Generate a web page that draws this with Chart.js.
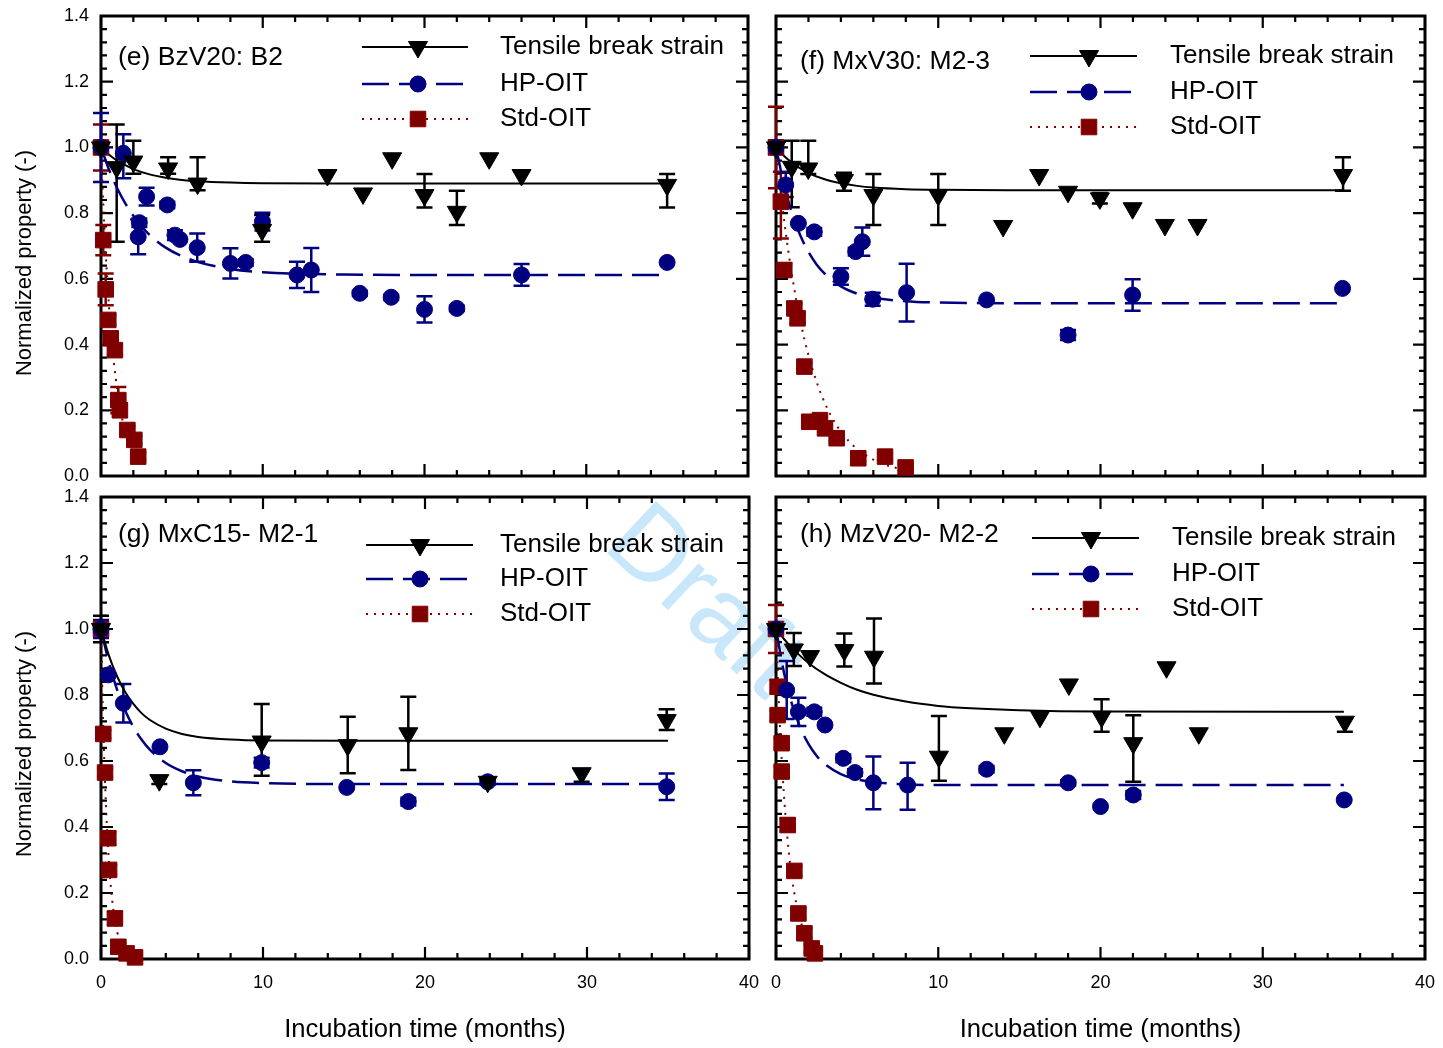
<!DOCTYPE html>
<html>
<head>
<meta charset="utf-8">
<script src="https://cdn.jsdelivr.net/npm/chart.js"></script>
<style>
html,body{margin:0;padding:0;background:#fff;}
#wrap{position:relative;width:1443px;height:1048px;overflow:hidden;background:#fff;}
#wrap canvas{position:absolute;}
#wm{position:absolute;left:708px;top:598px;transform:translate(-50%,-50%) rotate(43deg);font-family:"Liberation Sans",Arial,sans-serif;font-size:104px;color:#c9e7fa;white-space:nowrap;line-height:1;}
</style>
</head>
<body>
<div id="wrap">
<div id="wm">Draft</div>
<canvas id="ce" width="760" height="510" style="left:0px;top:-10px"></canvas>
<canvas id="cf" width="683" height="490" style="left:760px;top:0px"></canvas>
<canvas id="cg" width="775" height="582" style="left:0px;top:466px"></canvas>
<canvas id="ch" width="703" height="572" style="left:750px;top:476px"></canvas>
</div>
<script>
// ---------- text ----------
const seriesNames = ['Tensile break strain', 'HP-OIT', 'Std-OIT'];
const panelTitles = ['(e) BzV20: B2', '(f) MxV30: M2-3', '(g) MxC15- M2-1', '(h) MzV20- M2-2'];
const xAxisTitle = 'Incubation time (months)';
const yAxisTitle = 'Normalized property (-)';
const xMajorTicks = [0, 10, 20, 30, 40];
const yMajorTicks = [0, 0.2, 0.4, 0.6, 0.8, 1.0, 1.2, 1.4];

// ---------- panel (e) ----------
const eTensX = [0, 0.97, 2.0, 4.15, 5.97, 9.96, 14.0, 16.2, 18.0, 20.0, 22.0, 24.0, 26.0, 35.0];
const eTensY = [1.0, 0.94, 0.957, 0.936, 0.89, 0.749, 0.916, 0.86, 0.967, 0.855, 0.804, 0.967, 0.916, 0.886];
const eTensErr = [0, [0.227, 0.13], [0.037, 0.063], [0.016, 0.034], [0.02, 0.08], [0.036, 0.045], 0, 0, 0, [0.038, 0.064], [0.04, 0.064], 0, 0, [0.069, 0.033]];
const eHpX = [0, 1.38, 2.37, 2.3, 2.82, 4.1, 4.57, 4.88, 5.95, 8.0, 8.95, 9.98, 12.12, 13.0, 16.0, 17.94, 20.0, 22.0, 26.0, 35.0];
const eHpY = [1.0, 0.982, 0.771, 0.728, 0.85, 0.825, 0.733, 0.72, 0.695, 0.647, 0.65, 0.774, 0.612, 0.627, 0.556, 0.544, 0.507, 0.51, 0.612, 0.65];
const eHpErr = [0.105, [0.076, 0.058], 0.013, 0.053, 0.027, 0.01, 0.015, 0, 0.043, 0.046, 0.01, 0.027, 0.04, 0.067, 0.008, 0.008, 0.04, 0.008, 0.033, 0];
const eStdX = [0, 0.14, 0.29, 0.45, 0.6, 0.86, 1.07, 1.17, 1.63, 2.06, 2.3];
const eStdY = [1.0, 0.718, 0.568, 0.475, 0.419, 0.383, 0.231, 0.2, 0.14, 0.11, 0.059];
const eStdErr = [0.07, 0.046, 0.048, 0.015, 0.012, 0.015, 0.04, 0.02, 0.012, 0.012, 0.01];
const eTensFitX = [0, 0.5, 1, 1.5, 2, 3, 4, 5, 6, 8, 10, 15, 20, 35];
const eTensFitY = [1.0, 0.978, 0.960, 0.946, 0.934, 0.918, 0.908, 0.901, 0.897, 0.893, 0.891, 0.890, 0.890, 0.890];
const eHpFitX = [0, 0.5, 1, 1.5, 2, 2.5, 3, 4, 5, 6, 8, 10, 15, 20, 35];
const eHpFitY = [1.0, 0.932, 0.876, 0.830, 0.792, 0.760, 0.734, 0.695, 0.669, 0.651, 0.630, 0.620, 0.613, 0.612, 0.612];
const eStdFitX = [0, 0.1, 0.2, 0.3, 0.4, 0.6, 0.8, 1.0, 1.25, 1.5, 1.75, 2.0, 2.3];
const eStdFitY = [1.0, 0.875, 0.766, 0.670, 0.587, 0.449, 0.344, 0.264, 0.189, 0.135, 0.097, 0.069, 0.047];

// ---------- panel (f) ----------
const fTensX = [0, 0.97, 1.99, 4.19, 6.0, 10.0, 14.0, 16.22, 18.0, 19.96, 21.98, 23.97, 25.98, 34.95];
const fTensY = [1.0, 0.941, 0.936, 0.901, 0.855, 0.855, 0.761, 0.916, 0.865, 0.845, 0.815, 0.764, 0.764, 0.916];
const fTensErr = [0.02, [0.123, 0.079], [0.017, 0.084], [0.033, 0.022], [0.091, 0.064], [0.091, 0.064], 0, 0, 0, 0.016, 0, 0, 0, [0.048, 0.054]];
const fHpX = [0, 0.6, 1.38, 2.36, 4.0, 4.91, 5.32, 5.96, 8.05, 12.98, 18.0, 21.98, 34.92];
const fHpY = [1.0, 0.886, 0.769, 0.743, 0.607, 0.683, 0.713, 0.538, 0.558, 0.536, 0.429, 0.551, 0.571];
const fHpErr = [0.01, 0.037, 0, 0.012, 0.025, 0.012, 0.043, 0.02, 0.088, 0, 0.015, 0.048, 0];
const fStdX = [0, 0.3, 0.51, 1.13, 1.33, 1.75, 2.05, 2.71, 3.02, 3.74, 5.07, 6.72, 7.99];
const fStdY = [1.0, 0.835, 0.627, 0.51, 0.48, 0.333, 0.165, 0.17, 0.145, 0.115, 0.054, 0.059, 0.026];
const fStdErr = [0.124, [0.112, 0.091], 0.02, 0.015, 0.015, 0.01, 0.01, 0.01, 0.01, 0.01, 0.01, 0.01, 0.01];
const fTensFitX = [0, 0.5, 1, 1.5, 2, 3, 4, 5, 6, 8, 10, 15, 20, 35];
const fTensFitY = [1.0, 0.974, 0.953, 0.936, 0.922, 0.903, 0.891, 0.883, 0.878, 0.873, 0.871, 0.870, 0.870, 0.870];
const fHpFitX = [0, 0.5, 1, 1.5, 2, 2.5, 3, 4, 5, 6, 8, 10, 15, 20, 35];
const fHpFitY = [1.0, 0.885, 0.798, 0.732, 0.682, 0.644, 0.616, 0.577, 0.555, 0.543, 0.532, 0.528, 0.526, 0.526, 0.526];
const fStdFitX = [0, 0.5, 1, 1.5, 2, 2.5, 3, 3.5, 4, 5, 6, 7, 8];
const fStdFitY = [1.0, 0.779, 0.607, 0.472, 0.368, 0.287, 0.223, 0.174, 0.135, 0.082, 0.050, 0.030, 0.018];

// ---------- panel (g) ----------
const gTensX = [0, 3.6, 9.92, 15.23, 18.97, 23.87, 29.67, 34.92];
const gTensY = [1.0, 0.542, 0.659, 0.648, 0.684, 0.537, 0.563, 0.724];
const gTensErr = [0.04, 0.012, [0.104, 0.114], [0.085, 0.086], 0.111, 0.008, [0.026, 0.01], [0.03, 0.033]];
const gHpX = [0, 0.45, 1.38, 3.64, 5.7, 9.92, 15.17, 18.97, 23.87, 34.92];
const gHpY = [1.0, 0.861, 0.775, 0.643, 0.534, 0.595, 0.52, 0.477, 0.537, 0.522];
const gHpErr = [0.027, 0, 0.058, 0, 0.038, 0.015, 0, 0.012, 0.008, 0.04];
const gStdX = [0, 0.14, 0.25, 0.45, 0.5, 0.86, 1.07, 1.58, 2.1];
const gStdY = [1.0, 0.682, 0.565, 0.366, 0.27, 0.123, 0.037, 0.017, 0.005];
const gStdErr = [0.01, 0.012, 0.012, 0.02, 0.015, 0.02, 0.012, 0.01, 0.01];
const gTensFitX = [0, 0.5, 1, 1.5, 2, 2.5, 3, 4, 5, 6, 8, 10, 15, 20, 35];
const gTensFitY = [1.0, 0.918, 0.856, 0.808, 0.773, 0.745, 0.725, 0.698, 0.682, 0.673, 0.665, 0.662, 0.661, 0.661, 0.661];
const gHpFitX = [0, 0.5, 1, 1.5, 2, 2.5, 3, 4, 5, 6, 8, 10, 15, 20, 35];
const gHpFitY = [1.0, 0.896, 0.815, 0.752, 0.703, 0.665, 0.635, 0.594, 0.569, 0.553, 0.538, 0.533, 0.530, 0.530, 0.530];
const gStdFitX = [0, 0.1, 0.2, 0.3, 0.4, 0.5, 0.6, 0.8, 1.0, 1.25, 1.5, 1.75, 2.1];
const gStdFitY = [1.0, 0.779, 0.607, 0.472, 0.368, 0.287, 0.223, 0.135, 0.082, 0.044, 0.024, 0.013, 0.005];

// ---------- panel (h) ----------
const hTensX = [0, 1.1, 2.1, 4.21, 6.04, 10.04, 14.07, 16.27, 18.05, 20.07, 22.02, 24.07, 26.06, 35.06];
const hTensY = [1.0, 0.938, 0.918, 0.936, 0.916, 0.613, 0.684, 0.734, 0.832, 0.734, 0.654, 0.884, 0.684, 0.719];
const hTensErr = [0.01, 0.05, 0, 0.05, [0.081, 0.116], [0.073, 0.123], 0, 0, 0, [0.045, 0.053], [0.117, 0.085], 0, 0, [0.03, 0.01]];
const hHpX = [0, 0.66, 1.38, 2.36, 3.02, 4.15, 4.87, 6.0, 8.11, 12.98, 18.01, 20.0, 22.02, 35.02];
const hHpY = [1.0, 0.815, 0.749, 0.749, 0.709, 0.608, 0.565, 0.534, 0.527, 0.575, 0.534, 0.462, 0.497, 0.482];
const hHpErr = [0.01, 0.088, 0.043, 0.012, 0, 0.012, 0.01, 0.08, [0.075, 0.068], 0.01, 0.008, 0, 0.012, 0];
const hStdX = [0, 0.1, 0.1, 0.35, 0.35, 0.72, 1.13, 1.38, 1.75, 2.2, 2.4];
const hStdY = [1.0, 0.825, 0.739, 0.654, 0.568, 0.406, 0.267, 0.138, 0.078, 0.032, 0.017];
const hStdErr = [0.073, 0.02, 0.015, 0.015, 0.015, 0.02, 0.015, 0.015, 0.015, 0.012, 0.01];
const hTensFitX = [0, 0.5, 1, 2, 3, 4, 5, 6, 8, 10, 12, 15, 20, 35];
const hTensFitY = [1.0, 0.969, 0.942, 0.897, 0.863, 0.837, 0.816, 0.801, 0.780, 0.767, 0.760, 0.754, 0.750, 0.749];
const hHpFitX = [0, 0.5, 1, 1.5, 2, 2.5, 3, 4, 5, 6, 8, 10, 20, 35];
const hHpFitY = [1.0, 0.866, 0.770, 0.701, 0.652, 0.616, 0.591, 0.560, 0.544, 0.536, 0.529, 0.527, 0.527, 0.527];
const hStdFitX = [0, 0.1, 0.2, 0.3, 0.4, 0.6, 0.8, 1.0, 1.25, 1.5, 1.75, 2.0, 2.4];
const hStdFitY = [1.0, 0.867, 0.751, 0.651, 0.565, 0.424, 0.319, 0.240, 0.168, 0.117, 0.082, 0.057, 0.032];

// ---------- styling ----------
const FAMILY = '"Liberation Sans", Arial, Helvetica, sans-serif';
const STY = {
  tens: {color: '#000000', style: 'triangle', rot: 180, r: 11, lw: 2, dash: []},
  hp:   {color: '#000080', style: 'circle', rot: 0, r: 8, lw: 2.5, dash: [27, 10]},
  std:  {color: '#800000', style: 'rect', rot: 0, r: 11, lw: 2, dash: [2, 6]}
};
const KINDS = ['tens', 'hp', 'std'];

const panelDefs = [
  {canvas: 'ce', ox: 0, oy: -10, pad: {left: 0, right: 10, top: 26, bottom: 24}, showX: false, showY: true,
   title: panelTitles[0], titlePos: [118, 58], legLine: [362, 468, 418], legText: 500, legRows: [47, 84, 119], yTitleY: 263,
   tens: [eTensX, eTensY, eTensErr, eTensFitX, eTensFitY], hp: [eHpX, eHpY, eHpErr, eHpFitX, eHpFitY], std: [eStdX, eStdY, eStdErr, eStdFitX, eStdFitY]},
  {canvas: 'cf', ox: 760, oy: 0, pad: {left: 16, right: 18, top: 16, bottom: 14}, showX: false, showY: false,
   title: panelTitles[1], titlePos: [800, 62], legLine: [1030, 1137, 1089], legText: 1170, legRows: [56, 92, 127],
   tens: [fTensX, fTensY, fTensErr, fTensFitX, fTensFitY], hp: [fHpX, fHpY, fHpErr, fHpFitX, fHpFitY], std: [fStdX, fStdY, fStdErr, fStdFitX, fStdFitY]},
  {canvas: 'cg', ox: 0, oy: 466, pad: {left: 0, right: 26, top: 31, bottom: 0}, showX: true, showY: true,
   title: panelTitles[2], titlePos: [118, 535], legLine: [366, 473, 420], legText: 500, legRows: [545, 579, 614], yTitleY: 744,
   tens: [gTensX, gTensY, gTensErr, gTensFitX, gTensFitY], hp: [gHpX, gHpY, gHpErr, gHpFitX, gHpFitY], std: [gStdX, gStdY, gStdErr, gStdFitX, gStdFitY]},
  {canvas: 'ch', ox: 750, oy: 476, pad: {left: 26, right: 28, top: 21, bottom: 0}, showX: true, showY: false,
   title: panelTitles[3], titlePos: [800, 535], legLine: [1032, 1139, 1091], legText: 1172, legRows: [538, 574, 609],
   tens: [hTensX, hTensY, hTensErr, hTensFitX, hTensFitY], hp: [hHpX, hHpY, hHpErr, hHpFitX, hHpFitY], std: [hStdX, hStdY, hStdErr, hStdFitX, hStdFitY]}
];

function pts(xs, ys) { return xs.map((x, i) => ({x: x, y: ys[i]})); }
function errPair(e) { return Array.isArray(e) ? e : [e, e]; }

function drawMarker(ctx, kind, x, y) {
  const s = STY[kind];
  ctx.fillStyle = s.color; ctx.strokeStyle = s.color; ctx.lineWidth = 1; ctx.setLineDash([]);
  if (Chart.helpers && Chart.helpers.drawPoint) {
    Chart.helpers.drawPoint(ctx, {pointStyle: s.style, rotation: s.rot, radius: s.r, borderWidth: 1}, x, y);
    return;
  }
  ctx.beginPath();
  if (s.style === 'circle') ctx.arc(x, y, s.r, 0, Math.PI * 2);
  else if (s.style === 'rect') { const h = s.r * Math.SQRT1_2; ctx.rect(x - h, y - h, 2 * h, 2 * h); }
  else { const r = s.r; ctx.moveTo(x, y + r); ctx.lineTo(x - r * 0.866, y - r / 2); ctx.lineTo(x + r * 0.866, y - r / 2); ctx.closePath(); }
  ctx.fill(); ctx.stroke();
}

function makeDeco(P) {
  return {
    id: 'deco',
    beforeDatasetsDraw(chart) {
      const ctx = chart.ctx, a = chart.chartArea, xs = chart.scales.x, ys = chart.scales.y;
      ctx.save();
      ctx.strokeStyle = '#000'; ctx.lineWidth = 2.2; ctx.setLineDash([]);
      ctx.beginPath();
      for (let i = 0; i < xMajorTicks.length; i++) {
        const px = xs.getPixelForValue(xMajorTicks[i]);
        ctx.moveTo(px, a.bottom); ctx.lineTo(px, a.bottom - 12);
        ctx.moveTo(px, a.top); ctx.lineTo(px, a.top + 12);
        if (i < xMajorTicks.length - 1) {
          for (let k = 1; k < 5; k++) {
            const v = xMajorTicks[i] + (xMajorTicks[i + 1] - xMajorTicks[i]) * k / 5;
            const q = xs.getPixelForValue(v);
            ctx.moveTo(q, a.bottom); ctx.lineTo(q, a.bottom - 6);
            ctx.moveTo(q, a.top); ctx.lineTo(q, a.top + 6);
          }
        }
      }
      for (let i = 0; i < yMajorTicks.length; i++) {
        const py = ys.getPixelForValue(yMajorTicks[i]);
        ctx.moveTo(a.left, py); ctx.lineTo(a.left + 12, py);
        ctx.moveTo(a.right, py); ctx.lineTo(a.right - 12, py);
        if (i < yMajorTicks.length - 1) {
          for (let k = 1; k < 5; k++) {
            const v = yMajorTicks[i] + (yMajorTicks[i + 1] - yMajorTicks[i]) * k / 5;
            const q = ys.getPixelForValue(v);
            ctx.moveTo(a.left, q); ctx.lineTo(a.left + 6, q);
            ctx.moveTo(a.right, q); ctx.lineTo(a.right - 6, q);
          }
        }
      }
      ctx.stroke();
      ctx.lineWidth = 3;
      ctx.strokeRect(a.left, a.top, a.right - a.left, a.bottom - a.top);
      ['std', 'hp', 'tens'].forEach(kind => {
        const X = P[kind][0], Y = P[kind][1], E = P[kind][2];
        ctx.strokeStyle = STY[kind].color; ctx.lineWidth = 2.5;
        ctx.beginPath();
        for (let i = 0; i < X.length; i++) {
          const pr = errPair(E[i]);
          if (!pr[0] && !pr[1]) continue;
          const px = xs.getPixelForValue(X[i]);
          const y1 = ys.getPixelForValue(Y[i] + pr[1]), y2 = ys.getPixelForValue(Y[i] - pr[0]);
          ctx.moveTo(px, y1); ctx.lineTo(px, y2);
          ctx.moveTo(px - 8, y1); ctx.lineTo(px + 8, y1);
          ctx.moveTo(px - 8, y2); ctx.lineTo(px + 8, y2);
        }
        ctx.stroke();
      });
      ctx.restore();
    },
    afterDatasetsDraw(chart) {
      const ctx = chart.ctx;
      ctx.save();
      ctx.fillStyle = '#000';
      ctx.font = '26.5px ' + FAMILY;
      ctx.textBaseline = 'middle'; ctx.textAlign = 'left';
      ctx.fillText(P.title, P.titlePos[0] - P.ox, P.titlePos[1] - P.oy);
      KINDS.forEach((kind, i) => {
        const s = STY[kind];
        const yy = P.legRows[i] - P.oy;
        ctx.strokeStyle = s.color; ctx.lineWidth = s.lw; ctx.setLineDash(s.dash);
        ctx.beginPath(); ctx.moveTo(P.legLine[0] - P.ox, yy); ctx.lineTo(P.legLine[1] - P.ox, yy); ctx.stroke();
        drawMarker(ctx, kind, P.legLine[2] - P.ox, yy);
        ctx.fillStyle = '#000';
        ctx.font = '26px ' + FAMILY;
        ctx.fillText(seriesNames[i], P.legText - P.ox, yy);
      });
      if (P.showY) {
        ctx.save();
        ctx.translate(25 - P.ox, P.yTitleY - P.oy);
        ctx.rotate(-Math.PI / 2);
        ctx.font = '22px ' + FAMILY;
        ctx.textAlign = 'center'; ctx.textBaseline = 'middle';
        ctx.fillStyle = '#000';
        ctx.fillText(yAxisTitle, 0, 0);
        ctx.restore();
      }
      ctx.restore();
    }
  };
}

panelDefs.forEach(P => {
  const datasets = [];
  KINDS.forEach(kind => {
    const s = STY[kind];
    datasets.push({
      label: kind, data: pts(P[kind][0], P[kind][1]), showLine: false,
      pointStyle: s.style, rotation: s.rot, pointRadius: s.r,
      backgroundColor: s.color, borderColor: s.color, pointBorderWidth: 1, clip: false
    });
  });
  KINDS.forEach(kind => {
    const s = STY[kind];
    datasets.push({
      label: kind + '-fit', data: pts(P[kind][3], P[kind][4]), showLine: true, pointRadius: 0,
      borderColor: s.color, borderWidth: s.lw, borderDash: s.dash, cubicInterpolationMode: 'monotone',
      fill: false, clip: false
    });
  });
  new Chart(document.getElementById(P.canvas), {
    type: 'scatter',
    data: {datasets: datasets},
    options: {
      responsive: false, animation: false, events: [],
      layout: {padding: P.pad},
      plugins: {legend: {display: false}, tooltip: {enabled: false}},
      scales: {
        x: {
          type: 'linear', min: 0, max: 40, display: P.showX,
          grid: {display: false, drawTicks: false}, border: {display: false},
          afterBuildTicks: sc => { sc.ticks = xMajorTicks.map(v => ({value: v})); },
          ticks: {padding: 13, color: '#000', font: {size: 18, family: FAMILY}, maxRotation: 0, autoSkip: false},
          title: {display: true, text: xAxisTitle, color: '#000', font: {size: 25.6, family: FAMILY}, padding: {top: 0, bottom: 3}},
          afterFit: sc => { if (P.showX) sc.height = 89; }
        },
        y: {
          type: 'linear', min: 0, max: 1.4, display: P.showY,
          grid: {display: false, drawTicks: false}, border: {display: false},
          afterBuildTicks: sc => { sc.ticks = yMajorTicks.map(v => ({value: v})); },
          ticks: {padding: 12, color: '#000', font: {size: 18, family: FAMILY}, callback: v => Number(v).toFixed(1)},
          afterFit: sc => { if (P.showY) sc.width = 101; }
        }
      }
    },
    plugins: [makeDeco(P)]
  });
});
</script>
</body>
</html>
